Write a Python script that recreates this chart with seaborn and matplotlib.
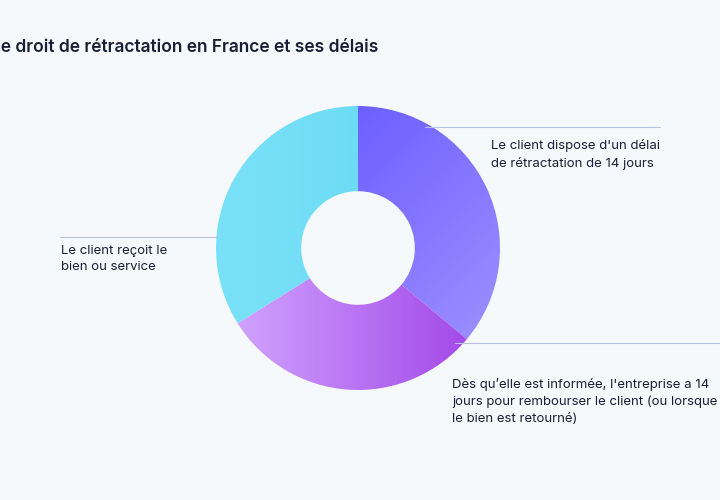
import numpy as np
import matplotlib
matplotlib.use("Agg")
import matplotlib.pyplot as plt
from matplotlib.colors import LinearSegmentedColormap
import seaborn as sns

sns.set_theme(style="white")
plt.rcParams['font.family'] = ['Inter', 'DejaVu Sans']

title = "Le droit de rétractation en France et ses délais"
steps = ["Le client dispose d'un délai\nde rétractation de 14 jours",
         "Dès qu’elle est informée, l'entreprise a 14\njours pour rembourser le client (ou lorsque\nle bien est retourné)",
         "Le client reçoit le\nbien ou service"]
spans = [130, 108, 122]  # angular share of each stage
grads = [("#5a4dff", "#a596ff", 1), ("#d4aaff", "#9d3de6", 0), ("#7ae2f8", "#62d5f2", 0)]

bg = "#f6f9fc"
fig = plt.figure(figsize=(7.2, 5.0), dpi=100, facecolor=bg)
ax = fig.add_axes([0, 0, 1, 1])
ax.set_facecolor(bg)

cx, cy, R = 358, 252, 142
wedges, _ = ax.pie(spans, startangle=90, counterclock=False, center=(cx, cy), radius=R,
                   wedgeprops=dict(width=R * 0.6, linewidth=0), colors=["w"] * 3)
for w, (c0, c1, diag) in zip(wedges, grads):
    cmap = LinearSegmentedColormap.from_list("g", [c0, c1])
    n = 200
    xx, yy = np.meshgrid(np.linspace(0, 1, n), np.linspace(0, 1, n))
    g = (xx + yy) / 2 if diag else xx
    im = ax.imshow(g, cmap=cmap, extent=(cx - R, cx + R, cy - R, cy + R), origin="upper",
                   zorder=2, interpolation="bilinear")
    im.set_clip_path(w)

ax.set_xlim(0, 720)
ax.set_ylim(0, 500)
ax.set_aspect("auto")
ax.axis("off")

lc = "#b8c4dc"
ax.plot([425, 660], [373, 373], color=lc, lw=0.8)
ax.plot([60, 218], [263, 263], color=lc, lw=0.8)
ax.plot([455, 720], [157, 157], color=lc, lw=0.8)

tc = "#1a1f36"
ax.text(491, 361, steps[0], fontsize=9.5, color=tc, va="top", linespacing=1.5)
ax.text(452, 122, steps[1], fontsize=9.5, color=tc, va="top", linespacing=1.5)
ax.text(61, 255, steps[2], fontsize=9.5, color=tc, va="top", linespacing=1.5)
ax.text(-9, 452, title, fontsize=12.5, color=tc, va="center", fontweight="semibold")

fig.savefig("out.png", dpi=100, facecolor=bg)
